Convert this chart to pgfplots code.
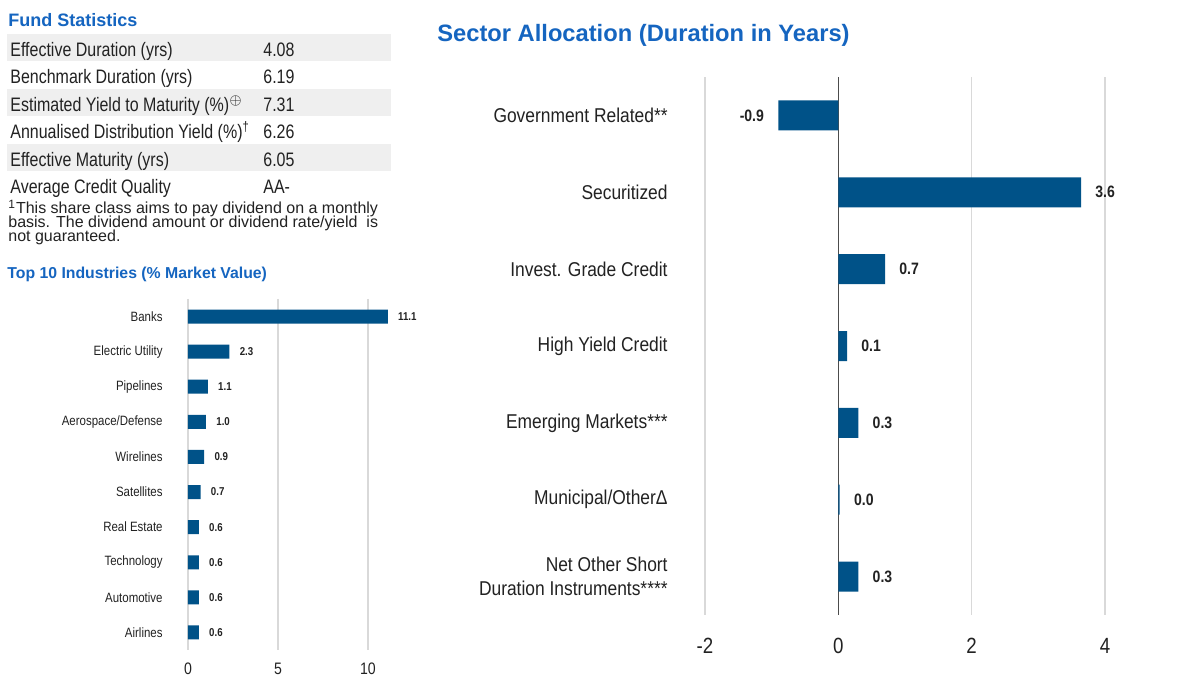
\documentclass[border=0pt]{standalone}
\usepackage{pgfplots}
\pgfplotsset{compat=1.18}
\usepackage{fontspec}
\setmainfont{Liberation Sans}
\newfontfamily\nf[FakeStretch=0.85]{Liberation Sans}
\newfontfamily\tf[FakeStretch=0.82]{Liberation Sans}
\newfontfamily\catf[FakeStretch=0.87]{Liberation Sans}
\definecolor{barblue}{RGB}{0,82,136}
\definecolor{titleblue}{RGB}{21,101,192}
\definecolor{rowgray}{RGB}{239,239,239}
\definecolor{gridgray}{RGB}{217,217,217}
\definecolor{txt}{RGB}{34,34,34}
\begin{document}
\begin{tikzpicture}[x=0.5pt,y=-0.5pt]
\path[use as bounding box, fill=white] (0,0) rectangle (1200,699);

% ---------------- Fund Statistics ----------------
\node[anchor=base west, inner sep=0, text=titleblue, font=\bfseries\fontsize{9}{11}\selectfont] at (8,27) {Fund Statistics};
\fill[rowgray] (7,34) rectangle (391,61.5);
\fill[rowgray] (7,89) rectangle (391,116.5);
\fill[rowgray] (7,144) rectangle (391,171.5);
\begin{scope}[every node/.style={anchor=base west, inner sep=0, text=txt, font=\tf\fontsize{9.75}{11}\selectfont}]
\node at (10,56.5) {Effective Duration (yrs)};
\node at (10,84) {Benchmark Duration (yrs)};
\node at (10,111.5) {Estimated Yield to Maturity (\%)\textsuperscript{$\oplus$}};
\node at (10,139) {Annualised Distribution Yield (\%)\textsuperscript{†}};
\node at (10,166.5) {Effective Maturity (yrs)};
\node at (10,194) {Average Credit Quality};
\node at (263,56.5) {4.08};
\node at (263,84) {6.19};
\node at (263,111.5) {7.31};
\node at (263,139) {6.26};
\node at (263,166.5) {6.05};
\node at (263,194) {AA-};
\end{scope}
\node[anchor=base west, inner sep=0, text=txt, align=left, font=\fontsize{8}{7}\selectfont\setlength{\lineskiplimit}{-8pt}] at (8,242)
 {\textsuperscript{1}This share class aims to pay dividend on a monthly\\basis. The dividend amount or dividend rate/yield\ \ is\\not guaranteed.};

% ---------------- Top 10 Industries ----------------
\node[anchor=base west, inner sep=0, text=titleblue, font=\bfseries\fontsize{7.9}{9}\selectfont] at (7,279) {Top 10 Industries (\% Market Value)};
\begin{axis}[
  at={(94pt,-325pt)}, anchor=south west,
  scale only axis, width=108pt, height=175.5pt,
  xbar, bar width=7pt,
  xmin=0, xmax=12, ymin=-0.5, ymax=9.5, y dir=reverse,
  xtick={0,5,10}, ytick={0,...,9},
  yticklabels={Banks,Electric Utility,Pipelines,Aerospace/Defense,Wirelines,Satellites,Real Estate,Technology,Automotive,Airlines},
  axis line style={draw=none}, major tick length=0pt,
  xmajorgrids, grid style={gridgray, line width=0.7pt},
  clip=false,
  /pgf/number format/assume math mode=true,
  xticklabel style={font=\nf\fontsize{8.3}{9}\selectfont, text=txt, anchor=base, yshift=-12pt},
  yticklabel style={font=\nf\fontsize{6.75}{8}\selectfont, text=txt, anchor=east, inner xsep=0pt, xshift=-12.5pt},
  point meta=x,
  nodes near coords={\pgfmathprintnumber[fixed,fixed zerofill,precision=1]{\pgfplotspointmeta}},
  nodes near coords style={font=\nf\bfseries\fontsize{5.7}{6}\selectfont, text=txt, inner xsep=5pt},
]
\addplot[fill=barblue, draw=none] coordinates {
(11.1,0) (2.3,1) (1.1,2) (1.0,3) (0.9,4) (0.7,5) (0.6,6) (0.6,7) (0.6,8) (0.6,9)};
\end{axis}

% ---------------- Sector Allocation ----------------
\node[anchor=base west, inner sep=0, text=titleblue, font=\bfseries\fontsize{11.85}{14}\selectfont] at (437,42) {Sector Allocation (Duration in Years)};
\begin{axis}[
  at={(352.5pt,-307.5pt)}, anchor=south west,
  scale only axis, width=200pt, height=269pt,
  xbar, bar width=15pt,
  xmin=-2, xmax=4, ymin=-0.5, ymax=6.5, y dir=reverse,
  xtick={-2,0,2,4}, ytick={0,...,6},
  yticklabels={Government Related**,Securitized,Invest. Grade Credit,High Yield Credit,Emerging Markets***,Municipal/OtherΔ,{Net Other Short\\Duration Instruments****}},
  axis line style={draw=none}, major tick length=0pt,
  xmajorgrids, grid style={gridgray, line width=0.6pt},
  extra x ticks={0}, extra x tick labels={},
  extra x tick style={grid=major, major grid style={black!70, line width=0.5pt}},
  clip=false,
  /pgf/number format/assume math mode=true,
  xticklabel style={font=\nf\fontsize{11}{13}\selectfont, text=txt, anchor=base, yshift=-19pt},
  yticklabel style={font=\catf\fontsize{10}{12}\selectfont, text=txt, align=right, anchor=east, inner xsep=0pt, xshift=-18.5pt},
  point meta=x,
  nodes near coords={\pgfmathprintnumber[fixed,fixed zerofill,precision=1]{\pgfplotspointmeta}},
  nodes near coords style={font=\nf\bfseries\fontsize{8.25}{9}\selectfont, text=txt, inner xsep=7pt},
]
\addplot[fill=barblue, draw=none] coordinates {
(-0.9,0) (3.64,1) (0.7,2) (0.13,3) (0.3,4) (0.02,5) (0.3,6)};
\end{axis}
\end{tikzpicture}
\end{document}
